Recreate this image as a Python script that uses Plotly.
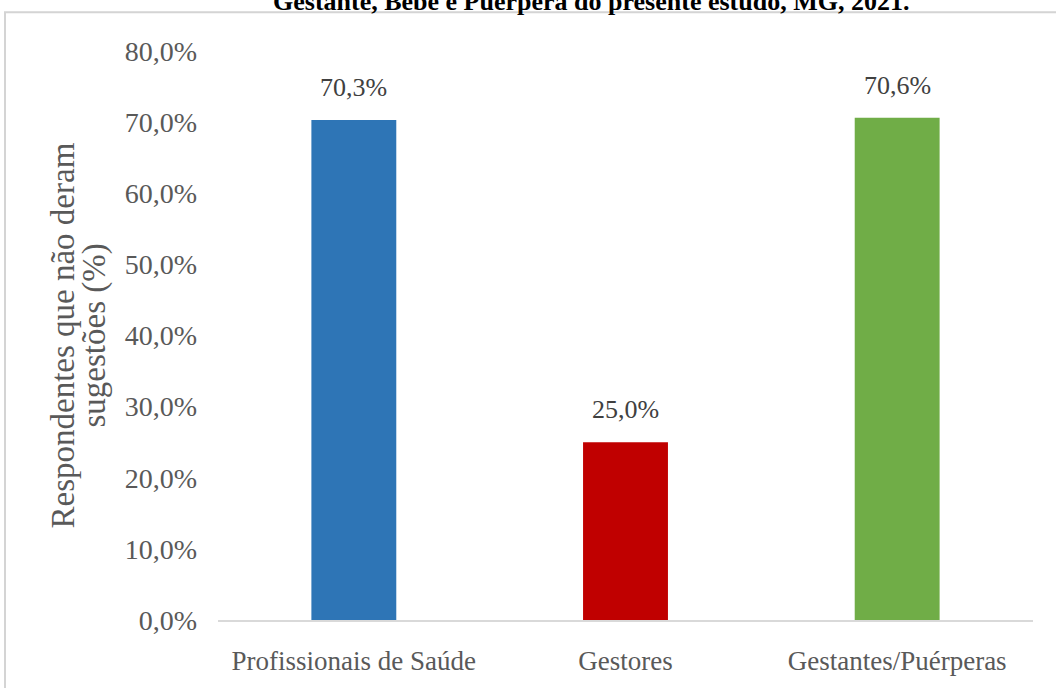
import plotly.graph_objects as go

categories = ["Profissionais de Saúde", "Gestores", "Gestantes/Puérperas"]
values = [70.3, 25.0, 70.6]
value_labels = ["70,3%", "25,0%", "70,6%"]
colors = ["#2E75B6", "#C00000", "#70AD47"]
tick_vals = [0, 10, 20, 30, 40, 50, 60, 70, 80]
tick_text = ["0,0%", "10,0%", "20,0%", "30,0%", "40,0%", "50,0%", "60,0%", "70,0%", "80,0%"]
title_text = "Gestante, Bebê e Puérpera do presente estudo, MG, 2021."
ytitle_lines = ["Respondentes que não deram", "sugestões (%)"]

W, H = 1056, 688
L, R, T, B = 218, 23, 51, 66
pw, ph = W - L - R, H - T - B

def px_x(x):
    return (x - L) / pw

def px_y(y):
    return (H - B - y) / ph

SERIF = "Liberation Serif, Times New Roman, serif"
GRAY = "#595959"

fig = go.Figure()
fig.add_trace(go.Bar(
    x=categories, y=values, marker=dict(color=colors, line=dict(width=0)),
    hoverinfo="x+y", showlegend=False,
))

annotations = []
for c, v, t in zip(categories, values, value_labels):
    annotations.append(dict(x=c, y=v, xref="x", yref="y", text=t, showarrow=False,
                            yanchor="bottom", yshift=16,
                            font=dict(family=SERIF, size=26, color="#404040")))

# title (partly cut off at the top as in the reference)
annotations.append(dict(x=px_x(591), y=px_y(18), xref="paper", yref="paper",
                        text="<b>" + title_text + "</b>", showarrow=False,
                        xanchor="center", yanchor="bottom",
                        font=dict(family=SERIF, size=26, color="#000000")))

# y-axis title as two rotated lines with tight spacing
for xc, line in zip([62, 94], ytitle_lines):
    annotations.append(dict(x=px_x(xc), y=0.5, xref="paper", yref="paper",
                            text=line, showarrow=False, textangle=-90,
                            xanchor="center", yanchor="middle",
                            font=dict(family=SERIF, size=33, color=GRAY)))

fig.update_layout(
    width=W, height=H,
    margin=dict(l=L, r=R, t=T, b=B, pad=0),
    paper_bgcolor="white", plot_bgcolor="white",
    bargap=0.6875,
    annotations=annotations,
    shapes=[dict(type="rect", xref="paper", yref="paper",
                 x0=px_x(5), x1=px_x(1062), y0=px_y(700), y1=px_y(12),
                 line=dict(color="#D4D4D4", width=2), fillcolor="rgba(0,0,0,0)",
                 layer="below")],
    xaxis=dict(showline=True, linecolor="#D9D9D9", linewidth=2, showgrid=False,
               ticks="", ticklabelstandoff=16,
               tickfont=dict(family=SERIF, size=27, color=GRAY), zeroline=False),
    yaxis=dict(range=[0, 80], tickvals=tick_vals, ticktext=tick_text, showgrid=False,
               zeroline=False, showline=False, ticks="", ticklabelstandoff=20,
               tickfont=dict(family=SERIF, size=28, color=GRAY)),
)

fig.write_html("out.html")
